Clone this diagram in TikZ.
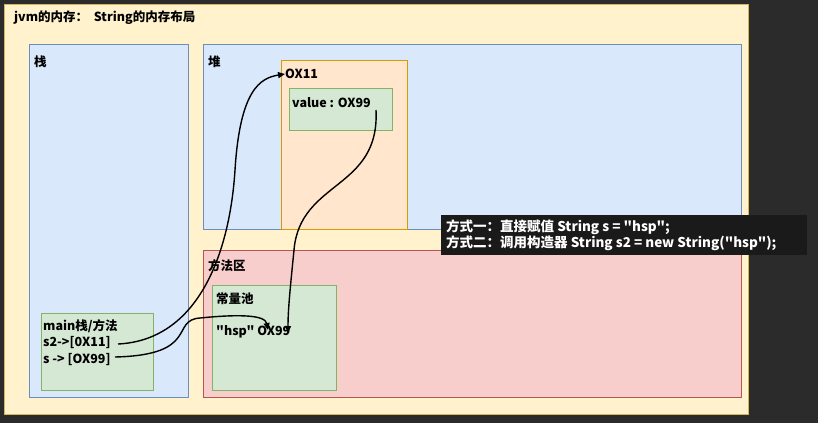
\documentclass[tikz,border=0pt]{standalone}
\usepackage{fontspec}
\setmainfont{Liberation Sans}
\newfontfamily\cjk{Noto Sans CJK SC}
\usetikzlibrary{arrows.meta}
\definecolor{bgdark}{HTML}{2B2B2B}
\definecolor{outerfill}{HTML}{FFF2CC}
\definecolor{outerline}{HTML}{D6B656}
\definecolor{bluefill}{HTML}{DAE8FC}
\definecolor{blueline}{HTML}{6C8EBF}
\definecolor{orangefill}{HTML}{FFE6CC}
\definecolor{orangeline}{HTML}{D79B00}
\definecolor{greenfill}{HTML}{D5E8D4}
\definecolor{greenline}{HTML}{82B366}
\definecolor{redfill}{HTML}{F8CECC}
\definecolor{redline}{HTML}{B85450}
\tikzset{
  area/.style={draw=#1line, fill=#1fill, line width=0.8pt},
  lbl/.style={anchor=west, inner sep=0pt, font=\cjk\bfseries\fontsize{12.5}{14.5}\selectfont},
  ptr/.style={-{Triangle[length=7pt,width=6pt]}, line width=1.4pt, black},
}
\begin{document}
\begin{tikzpicture}[x=1pt,y=-1pt]
\useasboundingbox (0,0) rectangle (818,423);
\fill[bgdark] (0,0) rectangle (818,423);
\draw[area=outer] (4,4) rectangle (748,414);
\node[lbl] (title) at (14,18) {jvm的内存：\ \ String的内存布局};
% stack
\draw[area=blue] (29,44) rectangle (188,397);
\node[lbl] (stack) at (34,62) {栈};
\draw[area=green] (41,313) rectangle (153,390);
\node[lbl] (main) at (43,326) {main栈/方法};
\node[lbl] (s2) at (43,343) {s2->[0X11]};
\node[lbl] (s) at (43,360) {s -> [OX99]};
% heap
\draw[area=blue] (203,44) rectangle (741,229);
\node[lbl] (heap) at (208,62) {堆};
\draw[area=orange] (281,60) rectangle (407,229);
\node[lbl] (obj) at (285,74) {OX11};
\draw[area=green] (289,88) rectangle (392,130);
\node[lbl] (value) at (292,103) {value : OX99};
% method area
\draw[area=red] (203,250) rectangle (741,397);
\node[lbl] (method) at (208,266) {方法区};
\draw[area=green] (212,285) rectangle (336,390);
\node[lbl] (pool) at (216,299) {常量池};
\node[lbl] (hsp) at (216,332) {"hsp" OX99};
% note
\fill[bgdark!60!black] (441,215) rectangle (807,255);
\node[lbl, text=white, align=left, font=\cjk\bfseries\fontsize{13.5}{16}\selectfont] (note) at (446,235) {方式一：直接赋值 String s = "hsp";\\方式二：调用构造器 String s2 = new String("hsp");};
% pointers
\coordinate (s2end) at (118,344);
\coordinate (send) at (115,357);
\coordinate (valend) at (376,110);
\draw[ptr] (s2end) .. controls (200,340) and (230,250) .. (235,170) .. controls (240,90) and (260,78) .. (obj.west);
\draw[ptr] (send) .. controls (200,355) and (170,320) .. (200,318) .. controls (240,314) and (265,315) .. (268,330);
\draw[ptr] (valend) .. controls (380,190) and (300,180) .. (294,250) .. controls (290,290) and (288,310) .. (288,333);
\end{tikzpicture}
\end{document}
